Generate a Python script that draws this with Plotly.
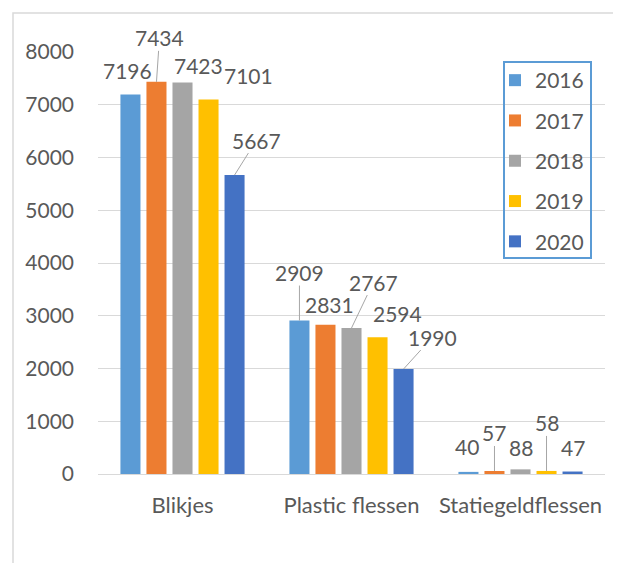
import plotly.graph_objects as go

categories = ["Blikjes", "Plastic flessen", "Statiegeldflessen"]
years = ["2016", "2017", "2018", "2019", "2020"]
values_2016 = [7196, 2909, 40]
values_2017 = [7434, 2831, 57]
values_2018 = [7423, 2767, 88]
values_2019 = [7101, 2594, 58]
values_2020 = [5667, 1990, 47]
series = [values_2016, values_2017, values_2018, values_2019, values_2020]
colors = ["#5B9BD5", "#ED7D31", "#A5A5A5", "#FFC000", "#4472C4"]

FONT = "Lato"
TXT = "#595959"
GRID = "#D9D9D9"
BARGAP = 0.23
BARGROUPGAP = 0.23

# label placement (pixel offsets from bar top): (dx, dy, leader_line)
label_offsets = [
    [(-3, -24, False), (3, -44, True), (16, -17, False), (40, -24, False), (22, -35, True)],
    [(0, -48, True), (4, -20, False), (22, -46, True), (20, -24, False), (29, -32, True)],
    [(-1, -25, False), (0, -38, True), (0, -22, False), (0, -48, True), (0, -24, False)],
]

fig = go.Figure()
for j, (yr, vals, col) in enumerate(zip(years, series, colors)):
    fig.add_trace(go.Bar(
        name=yr, x=categories, y=vals, marker_color=col,
        marker_line_width=0, legendgroup=yr,
    ))

slot = (1 - BARGAP) / len(years)
annotations = []
for i, cat in enumerate(categories):
    for j, vals in enumerate(series):
        xc = i + (j - (len(years) - 1) / 2) * slot
        dx, dy, leader = label_offsets[i][j]
        common = dict(x=xc, y=vals[i], xref="x", yref="y", text=str(vals[i]),
                      font=dict(family=FONT, size=21, color=TXT))
        if leader:
            annotations.append(dict(common, showarrow=True, arrowhead=0, arrowwidth=1,
                                    arrowcolor="#A6A6A6", ax=dx, ay=dy, standoff=0,
                                    borderpad=0))
        else:
            annotations.append(dict(common, showarrow=False, xshift=dx, yshift=-dy))

# page body margin of 8px: screen coords = figure coords + 8
OFF = 8
W, H = 621, 563
SX0, SX1, SY0, SY1 = 98, 605, 52, 474  # plot area in screen px
L, T = SX0 - OFF, SY0 - OFF
R, B = W - (SX1 - OFF), H - (SY1 - OFF)
pw, ph = SX1 - SX0, SY1 - SY0

def px_x(p):
    return (p - SX0) / pw

def px_y(p):
    return (SY1 - p) / ph

fig.update_layout(
    width=W, height=H,
    margin=dict(l=L, r=R, t=T, b=B, pad=0),
    paper_bgcolor="white", plot_bgcolor="white",
    barmode="group", bargap=BARGAP, bargroupgap=BARGROUPGAP,
    font=dict(family=FONT, size=21, color=TXT),
    annotations=annotations,
    legend=dict(
        x=px_x(495), y=px_y(60), xanchor="left", yanchor="top",
        borderwidth=0, bgcolor="rgba(0,0,0,0)",
        font=dict(family=FONT, size=21, color=TXT),
        tracegroupgap=10, traceorder="grouped",
    ),
    shapes=[
        dict(type="rect", xref="paper", yref="paper",
             x0=px_x(13), x1=px_x(640), y0=px_y(600), y1=px_y(13),
             line=dict(color=GRID, width=1.5), layer="below"),
        dict(type="rect", xref="paper", yref="paper",
             x0=px_x(504), x1=px_x(591), y0=px_y(258), y1=px_y(62),
             line=dict(color="#5B9BD5", width=2), layer="above"),
    ],
    showlegend=True,
)
fig.update_yaxes(range=[0, 8000], dtick=1000, showgrid=True, gridcolor=GRID, gridwidth=1,
                 zeroline=True, zerolinecolor=GRID, zerolinewidth=1, showline=False,
                 ticks="", ticklabelstandoff=23, tickfont=dict(family=FONT, size=21, color=TXT))
fig.update_xaxes(showgrid=False, showline=False, ticks="", ticklabelstandoff=16,
                 tickfont=dict(family=FONT, size=22, color=TXT))

fig.write_html("out.html")
